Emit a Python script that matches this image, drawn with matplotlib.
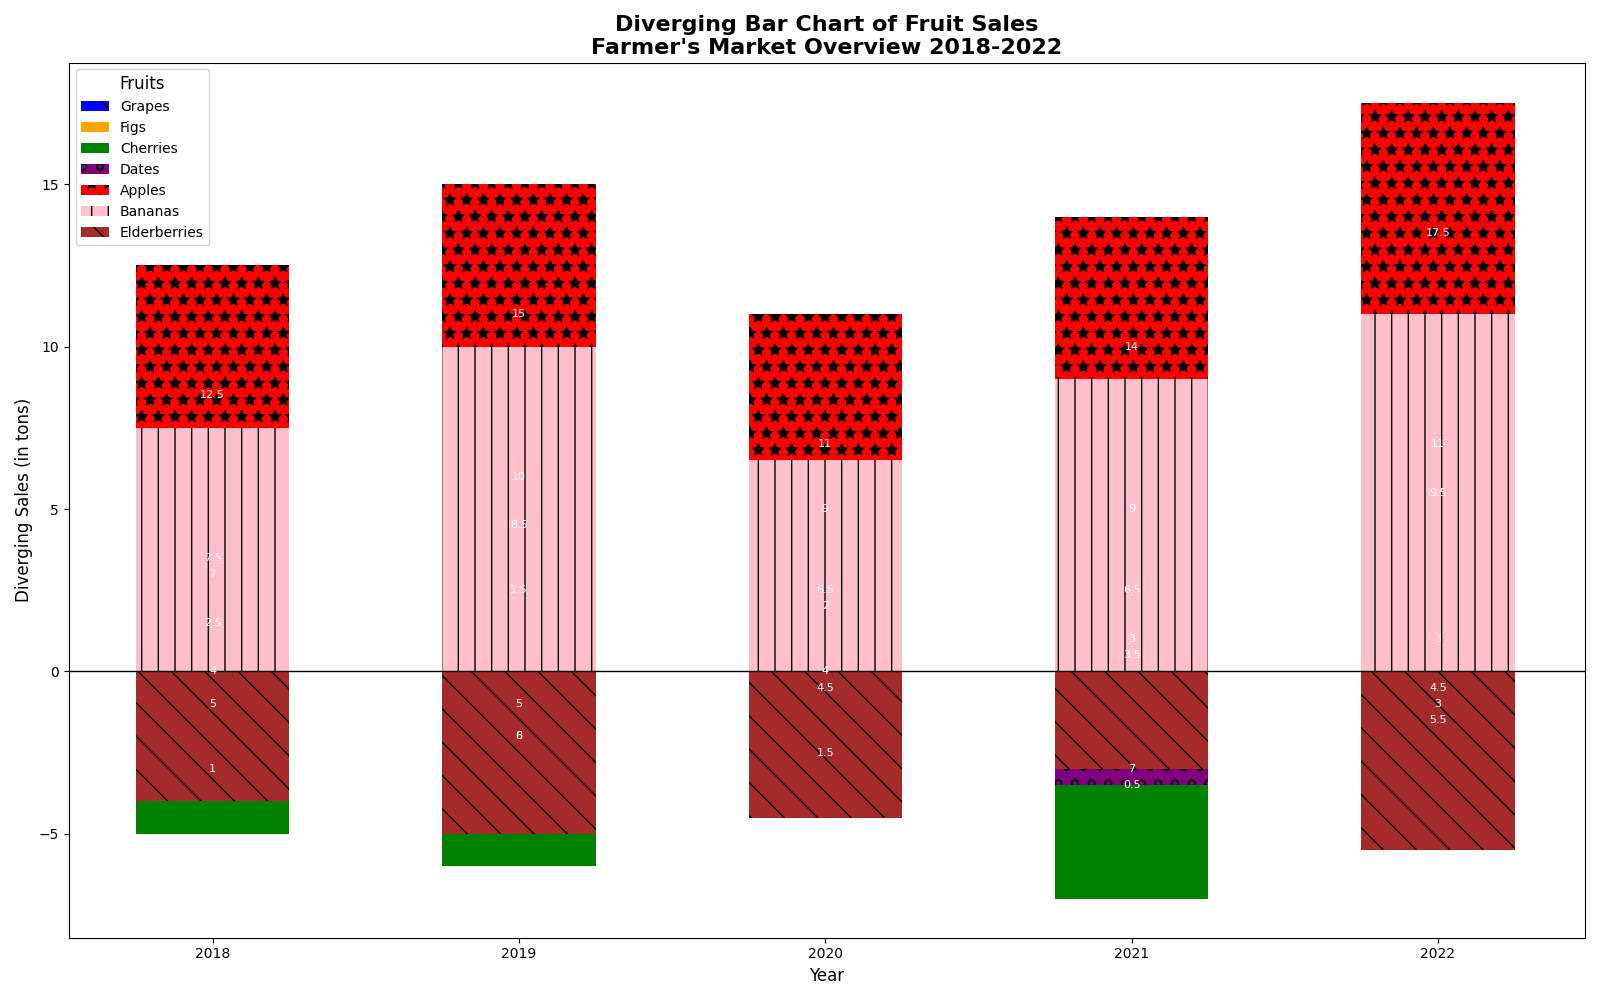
import matplotlib.pyplot as plt
import numpy as np

years = ["2018", "2019", "2020", "2021", "2022"]

# visible stacked segments (tons)
grapes = [0, 0, 0, 0, 0]
figs = [0, 0, 0, 0, 0]
bananas = [7.5, 10, 6.5, 9, 11]
apples = [5, 5, 4.5, 5, 6.5]
elderberries = [-4, -5, -4.5, -3, -5.5]
dates = [0, 0, 0, -0.5, 0]
cherries = [-1, -1, 0, -3.5, 0]

# value labels as they appear on each bar: (text, y)
label_text = [
    ["12.5", "7.5", "7", "2.5", "4", "5", "1"],
    ["15", "10", "8.5", "1.5", "5", "8", "6"],
    ["11", "9", "6.5", "2", "4", "4.5", "1.5"],
    ["14", "9", "6.5", "3", "3.5", "7", "0.5"],
    ["17.5", "11", "9.5", "3", "4.5", "3", "5.5"],
]
label_y = [
    [8.5, 3.5, 3, 1.5, 0, -1, -3],
    [11, 6, 4.5, 2.5, -1, -2, -2],
    [7, 5, 2.5, 2, 0, -0.5, -2.5],
    [10, 5, 2.5, 1, 0.5, -3, -3.5],
    [13.5, 7, 5.5, 1, -0.5, -1, -1.5],
]

plt.rcParams["hatch.linewidth"] = 1.0
fig, ax = plt.subplots(figsize=(16, 10), dpi=100)
x = np.arange(len(years))
w = 0.5

bananas = np.array(bananas)
elder = np.array(elderberries)
dates = np.array(dates)

ax.bar(x, grapes, w, color="blue", hatch="\\", label="Grapes")
ax.bar(x, figs, w, color="orange", label="Figs")
ax.bar(x, cherries, w, bottom=elder + dates, color="green", label="Cherries")
ax.bar(x, dates, w, bottom=elder, color="purple", hatch="o", label="Dates")
ax.bar(x, apples, w, bottom=bananas, color="red", hatch="*", label="Apples")
ax.bar(x, bananas, w, color="pink", hatch="|", label="Bananas")
ax.bar(x, elder, w, color="brown", hatch="\\", label="Elderberries")

for i in range(len(years)):
    for t, yy in zip(label_text[i], label_y[i]):
        ax.text(x[i], yy, t, ha="center", va="center", color="white", fontsize=8)

ax.axhline(0, color="black", linewidth=1)
ax.set_xticks(x)
ax.set_xticklabels(years)
ax.set_xlim(-0.47, 4.48)
ax.set_ylim(-8.2, 18.75)
ax.set_xlabel("Year", fontsize=12)
ax.set_ylabel("Diverging Sales (in tons)", fontsize=12)
ax.set_title("Diverging Bar Chart of Fruit Sales\nFarmer's Market Overview 2018-2022",
             fontsize=16, fontweight="bold")
ax.legend(title="Fruits", loc="upper left", title_fontsize=12)
plt.tight_layout()
plt.savefig("out.png")
